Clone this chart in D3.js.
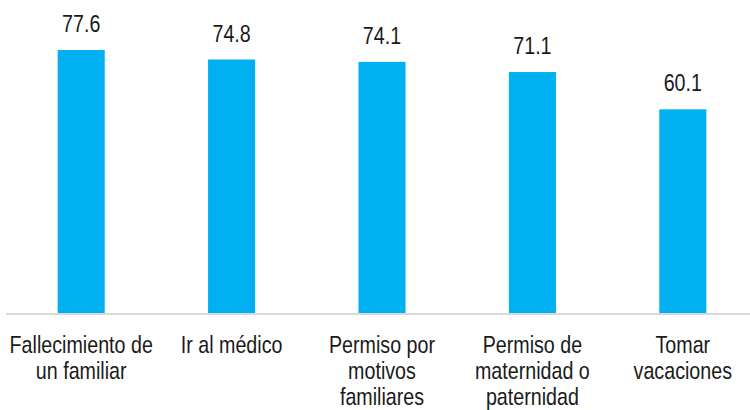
<!DOCTYPE html>
<html>
<head>
<meta charset="utf-8">
<script src="https://cdn.jsdelivr.net/npm/d3@7"></script>
<style>
    body { margin: 0; background: #fff; }
    .lbl { font-family: "Liberation Sans", Arial, sans-serif; font-size: 24px; fill: #1a1a1a; }
</style>
</head>
<body>
<div class="data_figure"></div>
<script>
const categories = [
    "Fallecimiento de|un familiar",
    "Ir al médico",
    "Permiso por|motivos|familiares",
    "Permiso de|maternidad o|paternidad",
    "Tomar|vacaciones"
];
const values = [77.6, 74.8, 74.1, 71.1, 60.1];

const width = 750,
    height = 410;
const baseY = 313;
const narrow = 0.82; // no narrow font installed, squeeze the normal one

const svg = d3.select(".data_figure")
    .append("svg")
    .attr("width", width)
    .attr("height", height);

const xScale = d3.scaleBand()
    .domain(categories)
    .range([6, 758])
    .paddingInner(0.687)
    .paddingOuter(0.3435);

const yScale = d3.scaleLinear()
    .domain([0, 90])
    .range([baseY, 8]);

const cx = (c) => xScale(c) + xScale.bandwidth() / 2;

// bars
svg.selectAll("rect.bar")
    .data(values)
    .enter()
    .append("rect")
    .attr("class", "bar")
    .attr("x", (d, i) => xScale(categories[i]))
    .attr("y", (d) => yScale(d))
    .attr("width", xScale.bandwidth())
    .attr("height", (d) => baseY - yScale(d))
    .attr("fill", "#00B0F0");

// baseline
svg.append("line")
    .attr("x1", 6)
    .attr("x2", width)
    .attr("y1", baseY + 1)
    .attr("y2", baseY + 1)
    .attr("stroke", "#d9d9d9")
    .attr("stroke-width", 2);

// value labels
svg.selectAll("text.val")
    .data(values)
    .enter()
    .append("text")
    .attr("class", "lbl val")
    .attr("text-anchor", "middle")
    .attr("transform", (d, i) => "translate(" + cx(categories[i]) + "," + (yScale(d) - 18) + ") scale(" + narrow + ",1)")
    .text((d) => d.toFixed(1));

// category labels
const cat = svg.selectAll("text.cat")
    .data(categories)
    .enter()
    .append("text")
    .attr("class", "lbl cat")
    .attr("text-anchor", "middle")
    .attr("transform", (d) => "translate(" + cx(d) + ",353) scale(" + narrow + ",1)");

cat.selectAll("tspan")
    .data((d) => d.split("|"))
    .enter()
    .append("tspan")
    .attr("x", 0)
    .attr("dy", (d, i) => i === 0 ? 0 : 26)
    .text((d) => d);
</script>
</body>
</html>
